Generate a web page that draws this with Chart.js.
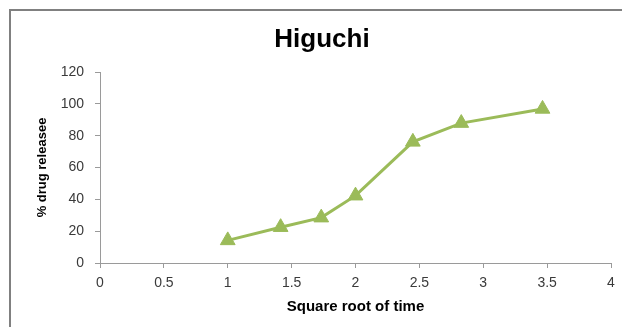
<!DOCTYPE html>
<html>
<head>
<meta charset="utf-8">
<script src="https://cdn.jsdelivr.net/npm/chart.js@4/dist/chart.umd.min.js"></script>
<style>
  html, body { margin: 0; padding: 0; background: #fff; }
  canvas { display: block; }
</style>
</head>
<body>
<canvas id="c" width="622" height="327"></canvas>
<script>
// Square root of time (x) and cumulative % drug released (y)
const sqrtTime = [1, 1.414, 1.732, 2, 2.449, 2.828, 3.464];
const drugRelease = [14.2, 22.5, 28.5, 42.3, 76.1, 87.9, 96.8];
const xTicks = [0, 0.5, 1, 1.5, 2, 2.5, 3, 3.5, 4];
const yTicks = [0, 20, 40, 60, 80, 100, 120];

const chartTitle = 'Higuchi';
const xTitle = 'Square root of time';
const yTitle = '% drug releasee';

const green = '#9BBB59';
const axisGrey = '#9a9a9a';
const labelColor = '#3a3a3a';
const fontFamily = '"Liberation Sans", Arial, sans-serif';

// Outer frame and centred heading of the chart
const framePlugin = {
  id: 'frame',
  beforeDraw(chart) {
    const ctx = chart.ctx;
    ctx.save();
    ctx.fillStyle = '#fff';
    ctx.fillRect(0, 0, chart.width, chart.height);
    ctx.strokeStyle = '#808080';
    ctx.lineWidth = 2;
    ctx.strokeRect(10, 10, chart.width + 20, chart.height + 20);
    ctx.restore();
  },
  afterDraw(chart) {
    const ctx = chart.ctx;
    ctx.save();
    ctx.fillStyle = '#000';
    ctx.font = 'bold 26px ' + fontFamily;
    ctx.textAlign = 'center';
    ctx.textBaseline = 'alphabetic';
    ctx.fillText(chartTitle, 322, 47);
    ctx.restore();
  }
};

const points = sqrtTime.map((x, i) => ({ x: x, y: drugRelease[i] }));

new Chart(document.getElementById('c'), {
  type: 'scatter',
  data: {
    datasets: [{
      data: points,
      showLine: true,
      borderColor: green,
      borderWidth: 3,
      backgroundColor: green,
      pointStyle: 'triangle',
      pointRadius: 8.5,
      pointHoverRadius: 8.5,
      pointBorderWidth: 1,
      pointBorderColor: green,
      pointBackgroundColor: green,
      tension: 0
    }]
  },
  options: {
    responsive: false,
    animation: false,
    devicePixelRatio: 1,
    layout: { padding: { left: 0, right: 11, top: 72, bottom: 0 } },
    plugins: {
      legend: { display: false },
      title: { display: false },
      tooltip: { enabled: false }
    },
    scales: {
      x: {
        type: 'linear',
        min: 0,
        max: 4,
        afterBuildTicks(scale) { scale.ticks = xTicks.map(v => ({ value: v })); },
        afterFit(scale) { scale.height = 64; },
        ticks: {
          color: labelColor,
          font: { family: fontFamily, size: 14 },
          padding: 7,
          maxRotation: 0,
          autoSkip: false,
          callback: v => String(v)
        },
        grid: { drawOnChartArea: false, drawTicks: true, tickLength: 5, color: axisGrey, lineWidth: 1 },
        border: { display: true, color: axisGrey, width: 1 },
        title: {
          display: true,
          text: xTitle,
          color: '#000',
          font: { family: fontFamily, size: 15, weight: 'bold' },
          padding: { top: 0, bottom: 11 }
        }
      },
      y: {
        type: 'linear',
        min: 0,
        max: 120,
        afterBuildTicks(scale) { scale.ticks = yTicks.map(v => ({ value: v })); },
        afterFit(scale) { scale.width = 100; },
        ticks: {
          color: labelColor,
          font: { family: fontFamily, size: 14 },
          padding: 11,
          autoSkip: false
        },
        grid: { drawOnChartArea: false, drawTicks: true, tickLength: 5, color: axisGrey, lineWidth: 1 },
        border: { display: true, color: axisGrey, width: 1 },
        title: {
          display: true,
          text: yTitle,
          color: '#000',
          font: { family: fontFamily, size: 13, weight: 'bold' },
          padding: { top: 35, bottom: 0 }
        }
      }
    }
  },
  plugins: [framePlugin]
});
</script>
</body>
</html>
